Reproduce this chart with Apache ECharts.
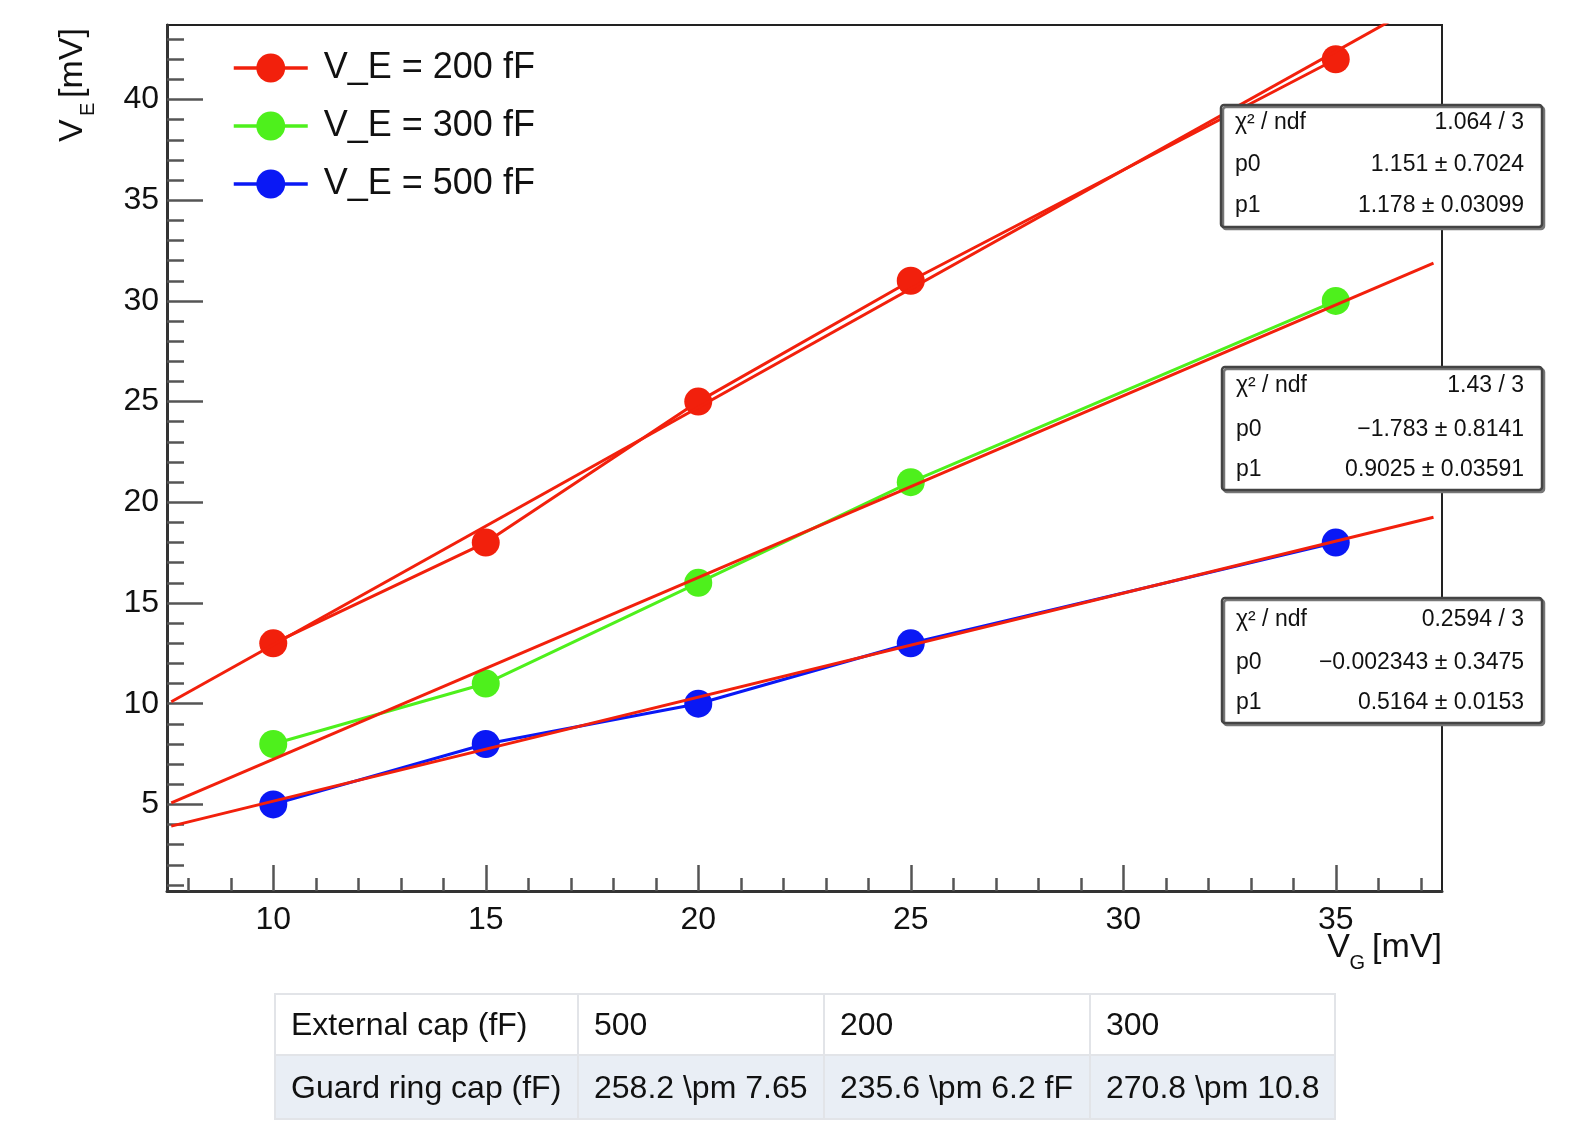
<!DOCTYPE html>
<html>
<head>
<meta charset="utf-8">
<script src="https://cdn.jsdelivr.net/npm/echarts@6/dist/echarts.min.js"></script>
<style>
html,body{margin:0;padding:0;background:#fff;}
#chart{position:absolute;left:0;top:0;width:1572px;height:1125px;}
#tbl{position:absolute;left:274px;top:993px;border-collapse:collapse;table-layout:fixed;
  font-family:'Liberation Sans',Arial,sans-serif;font-size:32px;color:#111;}
#tbl td{border:2px solid #e2e4e8;padding:0 0 0 15px;white-space:nowrap;box-sizing:border-box;}
#tbl tr.r1 td{height:61px;background:#fff;}
#tbl tr.r2 td{height:64px;background:#e9eef5;}
</style>
</head>
<body>
<div id="chart"></div>
<table id="tbl"><colgroup><col style="width:303px"><col style="width:246px"><col style="width:266px"><col style="width:245px"></colgroup>
<tbody><tr class="r1" id="row1"></tr><tr class="r2" id="row2"></tr></tbody></table>
<script>
// ---------- data ----------
const vgValues = [10, 15, 20, 25, 35];
const ve200 = [13, 18, 25, 31, 42];
const ve300 = [8, 11, 16, 21, 30];
const ve500 = [5, 8, 10, 13, 18];
const seriesNames = ['V_E = 200 fF', 'V_E = 300 fF', 'V_E = 500 fF'];
// fit line end points (x, y)
const fitX = [7.6, 37.3];
const fit200 = [10.1, 45.1];
const fit300 = [5.08, 31.88];
const fit500 = [3.92, 19.26];
const xMajorTicks = [10, 15, 20, 25, 30, 35];
const xMinorTicks = [8, 9, 10, 11, 12, 13, 14, 15, 16, 17, 18, 19, 20, 21, 22, 23, 24, 25, 26, 27, 28, 29, 30, 31, 32, 33, 34, 35, 36, 37];
const yMajorTicks = [5, 10, 15, 20, 25, 30, 35, 40];
const yMinorTicks = [1, 2, 3, 4, 5, 6, 7, 8, 9, 10, 11, 12, 13, 14, 15, 16, 17, 18, 19, 20, 21, 22, 23, 24, 25, 26, 27, 28, 29, 30, 31, 32, 33, 34, 35, 36, 37, 38, 39, 40, 41, 42, 43];
const statLabels = ['\u03c7\u00b2 / ndf', 'p0', 'p1'];
const stat200 = ['1.064 / 3', '1.151 \u00b1 0.7024', '1.178 \u00b1 0.03099'];
const stat300 = ['1.43 / 3', '\u22121.783 \u00b1 0.8141', '0.9025 \u00b1 0.03591'];
const stat500 = ['0.2594 / 3', '\u22120.002343 \u00b1 0.3475', '0.5164 \u00b1 0.0153'];
const tableHeader = ['External cap (fF)', '500', '200', '300'];
const tableRow = ['Guard ring cap (fF)', '258.2 \\pm 7.65', '235.6 \\pm 6.2 fF', '270.8 \\pm 10.8'];

// ---------- table ----------
document.getElementById('row1').innerHTML = tableHeader.map(t => '<td>' + t + '</td>').join('');
document.getElementById('row2').innerHTML = tableRow.map(t => '<td>' + t.replace(/\\/g, '&#92;') + '</td>').join('');

// ---------- chart ----------
const FONT = "'Liberation Sans', Arial, sans-serif";
const RED = '#f2200c', GREEN = '#4ef01c', BLUE = '#0a18f5';
const pts = ys => vgValues.map((x, i) => [x, ys[i]]);
const fitPts = ys => fitX.map((x, i) => [x, ys[i]]);

function dataSeries(name, ys, color) {
  return {
    name: name, type: 'line', data: pts(ys), z: 2,
    symbol: 'circle', symbolSize: 28,
    itemStyle: { color: color },
    lineStyle: { color: color, width: 3 },
    emphasis: { disabled: true }
  };
}
function fitSeries(name, ys) {
  return {
    name: name, type: 'line', data: fitPts(ys), z: 3,
    symbol: 'none', silent: true, clip: true,
    lineStyle: { color: RED, width: 3 },
    emphasis: { disabled: true }
  };
}

const statBoxes = [
  { x: 1221, y: 105, w: 321, h: 122, rows: [123, 165, 206], vals: stat200 },
  { x: 1222, y: 367, w: 320, h: 123, rows: [386, 430, 470], vals: stat300 },
  { x: 1222, y: 598, w: 320, h: 125, rows: [620, 663, 703], vals: stat500 }
];
const graphics = [];
const txt = (x, y, text, size, align) => ({ type: 'text', x: x, y: y,
  style: { text: text, font: size + 'px ' + FONT, fill: '#111', align: align, verticalAlign: 'middle', textAlign: align, textVerticalAlign: 'middle' } });
statBoxes.forEach(b => {
  graphics.push({ type: 'rect', z: 100, shape: { x: b.x, y: b.y, width: b.w, height: b.h, r: 3 },
    style: { fill: '#fff', stroke: '#444', lineWidth: 2.5, shadowColor: '#777', shadowOffsetX: 2, shadowOffsetY: 2, shadowBlur: 0 } });
  b.rows.forEach((ry, i) => {
    graphics.push(Object.assign(txt(b.x + 14, ry, statLabels[i], 23, 'left'), { z: 101 }));
    graphics.push(Object.assign(txt(b.x + b.w - 18, ry, b.vals[i], 23, 'right'), { z: 101 }));
  });
});
// x axis title  V_G [mV]
graphics.push({ type: 'group', z: 101, x: 1442, y: 948, children: [
  txt(0, 0, '[mV]', 34, 'right'),
  txt(-77, 15, 'G', 20, 'right'),
  txt(-92, 0, 'V', 34, 'right')
]});
// y axis title  V_E [mV]
graphics.push({ type: 'group', z: 101, x: 73, y: 142, rotation: Math.PI / 2, children: [
  txt(0, 0, 'V', 34, 'left'),
  txt(26, 15, 'E', 20, 'left'),
  txt(44, 0, '[mV]', 34, 'left')
]});

const axisLabelStyle = { color: '#111', fontSize: 32, fontFamily: FONT };
const option = {
  animation: false,
  backgroundColor: '#fff',
  grid: { left: 167, right: 130, top: 25, bottom: 234, show: true, borderColor: '#222', borderWidth: 2, containLabel: false },
  legend: {
    data: seriesNames, orient: 'vertical', left: 232, top: 50, padding: 0,
    itemWidth: 74, itemHeight: 36, itemGap: 22,
    lineStyle: { width: 3.5 },
    textStyle: { color: '#111', fontSize: 36, fontFamily: FONT, padding: [0, 0, 0, 11] },
    selectedMode: false
  },
  xAxis: [
    { type: 'value', min: 7.5, max: 37.5, position: 'bottom',
      axisLine: { show: true, lineStyle: { color: '#333', width: 3 } },
      axisTick: { show: true, inside: true, length: 26, customValues: xMajorTicks, lineStyle: { color: '#555', width: 2.5 } },
      axisLabel: { show: true, margin: 13, customValues: xMajorTicks, ...axisLabelStyle },
      splitLine: { show: false } },
    { type: 'value', min: 7.5, max: 37.5, position: 'bottom', offset: 0,
      axisLine: { show: false },
      axisTick: { show: true, inside: true, length: 13, customValues: xMinorTicks, lineStyle: { color: '#555', width: 2.5 } },
      axisLabel: { show: false },
      splitLine: { show: false } }
  ],
  yAxis: [
    { type: 'value', min: 0.7, max: 43.7, position: 'left',
      axisLine: { show: true, lineStyle: { color: '#333', width: 3 } },
      axisTick: { show: true, inside: true, length: 36, customValues: yMajorTicks, lineStyle: { color: '#555', width: 2.5 } },
      axisLabel: { show: true, margin: 8, customValues: yMajorTicks, ...axisLabelStyle },
      splitLine: { show: false } },
    { type: 'value', min: 0.7, max: 43.7, position: 'left', offset: 0,
      axisLine: { show: false },
      axisTick: { show: true, inside: true, length: 17, customValues: yMinorTicks, lineStyle: { color: '#555', width: 2.5 } },
      axisLabel: { show: false },
      splitLine: { show: false } }
  ],
  series: [
    dataSeries(seriesNames[0], ve200, RED),
    dataSeries(seriesNames[1], ve300, GREEN),
    dataSeries(seriesNames[2], ve500, BLUE),
    fitSeries('fit 200 fF', fit200),
    fitSeries('fit 300 fF', fit300),
    fitSeries('fit 500 fF', fit500)
  ],
  graphic: { elements: graphics }
};
const chart = echarts.init(document.getElementById('chart'), null, { renderer: 'canvas' });
chart.setOption(option);
</script>
</body>
</html>
